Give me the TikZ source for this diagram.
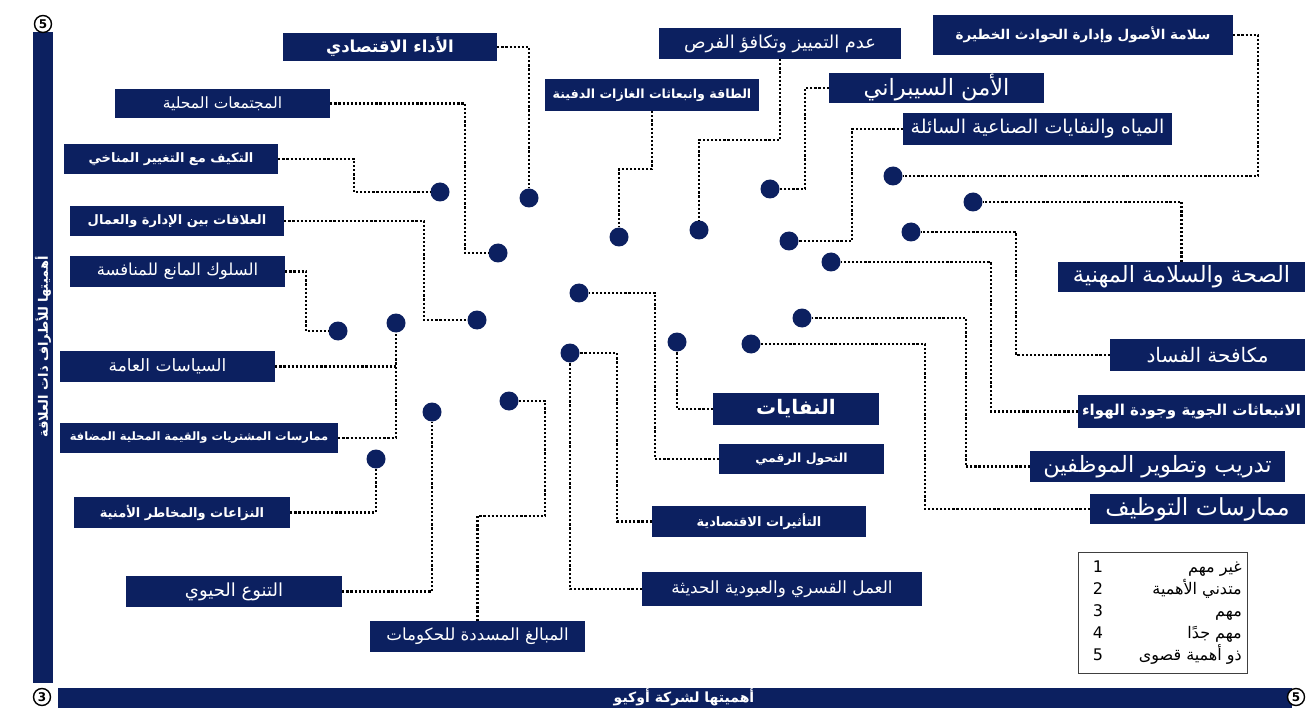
\documentclass[tikz,border=0pt]{standalone}
\usepackage{fontspec}
\setmainfont{DejaVu Sans}
\newfontfamily\arabicfont[Script=Arabic]{DejaVu Sans}
\TeXXeTstate=1
\definecolor{navy}{RGB}{12,32,96}
\newcommand{\artxt}[1]{\beginR #1\endR}
\begin{document}
\begin{tikzpicture}[x=1pt,y=-1pt,
  lbl/.style={fill=navy,text=white,inner sep=0pt,font=\arabicfont\fontsize{16}{18}\selectfont},
  fr/.style={font=\arabicfont\fontsize{#1}{#1}\selectfont},
  fb/.style={font=\arabicfont\bfseries\fontsize{#1}{#1}\selectfont},
  dot/.style={circle,fill=navy,minimum size=19pt,inner sep=0pt},
  conn/.style={line width=2.2pt,dash pattern=on 2.2pt off 1.9pt,black},
  cmark/.style={circle,draw=black,fill=white,line width=1.4pt,minimum size=17pt,inner sep=0pt,font=\bfseries\fontsize{12}{12}\selectfont},
  bar/.style={fill=navy,inner sep=0pt},
  legtxt/.style={font=\arabicfont\fontsize{16}{18}\selectfont,inner sep=0pt,anchor=base east},
  legnum/.style={font=\fontsize{16}{18}\selectfont,inner sep=0pt,anchor=base}
]
\useasboundingbox (0,0) rectangle (1313,708);
\fill[white] (0,0) rectangle (1313,708);

% axes
\node[bar,minimum width=20pt,minimum height=651pt] (ybar) at (43,357.5) {};
\node[bar,minimum width=1234pt,minimum height=20pt] (xbar) at (675,698) {};
\node[rotate=90,text=white,fb=13] (ylab) at (43,347) {\artxt{أهميتها للأطراف ذات العلاقة}};
\node[text=white,fb=14] (xlab) at (684,697) {\artxt{أهميتها لشركة أوكيو}};
\node[cmark] (m1) at (43,24) {5};
\node[cmark] (m2) at (42,697) {3};
\node[cmark] (m3) at (1296,697) {5};

% labels
\node[lbl,fb=16.5,minimum width=214pt,minimum height=28pt] (a1) at (390,47) {\artxt{الأداء الاقتصادي}};
\node[lbl,fr=15.5,minimum width=215pt,minimum height=29pt] (a2) at (222.5,103.5) {\artxt{المجتمعات المحلية}};
\node[lbl,fb=13,minimum width=214pt,minimum height=30pt] (a3) at (171,159) {\artxt{التكيف مع التغيير المناخي}};
\node[lbl,fb=13,minimum width=214pt,minimum height=30pt] (a4) at (177,221) {\artxt{العلاقات بين الإدارة والعمال}};
\node[lbl,fr=16.5,minimum width=215pt,minimum height=31pt] (a5) at (177.5,271.5) {\artxt{السلوك المانع للمنافسة}};
\node[lbl,fr=17,minimum width=215pt,minimum height=31pt] (a6) at (167.5,366.5) {\artxt{السياسات العامة}};
\node[lbl,fb=11.5,minimum width=278pt,minimum height=30pt] (a7) at (199,438) {\artxt{ممارسات المشتريات والقيمة المحلية المضافة}};
\node[lbl,fb=13,minimum width=216pt,minimum height=31pt] (a8) at (182,512.5) {\artxt{النزاعات والمخاطر الأمنية}};
\node[lbl,fr=18,minimum width=216pt,minimum height=31pt] (a9) at (234,591.5) {\artxt{التنوع الحيوي}};
\node[lbl,fr=16.7,minimum width=215pt,minimum height=31pt] (a10) at (477.5,636.5) {\artxt{المبالغ المسددة للحكومات}};
\node[lbl,fr=16.8,minimum width=280pt,minimum height=34pt] (a11) at (782,589) {\artxt{العمل القسري والعبودية الحديثة}};
\node[lbl,fb=13,minimum width=214pt,minimum height=31pt] (a12) at (759,521.5) {\artxt{التأثيرات الاقتصادية}};
\node[lbl,fb=12.5,minimum width=165pt,minimum height=30pt] (a13) at (801.5,459) {\artxt{التحول الرقمي}};
\node[lbl,fb=20,minimum width=166pt,minimum height=32pt] (a14) at (796,409) {\artxt{النفايات}};
\node[lbl,fr=23.5,minimum width=215pt,minimum height=30pt] (a15) at (1197.5,509) {\artxt{ممارسات التوظيف}};
\node[lbl,fr=22.5,minimum width=255pt,minimum height=31pt] (a16) at (1157.5,466.5) {\artxt{تدريب وتطوير الموظفين}};
\node[lbl,fb=15,minimum width=227pt,minimum height=33pt] (a17) at (1191.5,411.5) {\artxt{الانبعاثات الجوية وجودة الهواء}};
\node[lbl,fr=20,minimum width=195pt,minimum height=32pt] (a18) at (1207.5,355) {\artxt{مكافحة الفساد}};
\node[lbl,fr=22.5,minimum width=247pt,minimum height=30pt] (a19) at (1181.5,277) {\artxt{الصحة والسلامة المهنية}};
\node[lbl,fr=19,minimum width=269pt,minimum height=32pt] (a20) at (1037.5,129) {\artxt{المياه والنفايات الصناعية السائلة}};
\node[lbl,fr=22.5,minimum width=215pt,minimum height=30pt] (a21) at (936.5,88) {\artxt{الأمن السيبراني}};
\node[lbl,fb=13.5,minimum width=300pt,minimum height=40pt] (a22) at (1083,35) {\artxt{سلامة الأصول وإدارة الحوادث الخطيرة}};
\node[lbl,fr=17.8,minimum width=242pt,minimum height=31pt] (a23) at (780,43.5) {\artxt{عدم التمييز وتكافؤ الفرص}};
\node[lbl,fb=12.6,minimum width=214pt,minimum height=32pt] (a24) at (652,95) {\artxt{الطاقة وانبعاثات الغازات الدفينة}};

% dots
\node[dot] (d1) at (440,192) {};
\node[dot] (d2) at (529,198) {};
\node[dot] (d3) at (498,253) {};
\node[dot] (d4) at (619,237) {};
\node[dot] (d5) at (699,230) {};
\node[dot] (d6) at (770,189) {};
\node[dot] (d7) at (893,176) {};
\node[dot] (d8) at (973,202) {};
\node[dot] (d9) at (789,241) {};
\node[dot] (d10) at (911,232) {};
\node[dot] (d11) at (831,262) {};
\node[dot] (d12) at (579,293) {};
\node[dot] (d13) at (477,320) {};
\node[dot] (d14) at (396,323) {};
\node[dot] (d15) at (338,331) {};
\node[dot] (d16) at (802,318) {};
\node[dot] (d17) at (677,342) {};
\node[dot] (d18) at (751,344) {};
\node[dot] (d19) at (570,353) {};
\node[dot] (d20) at (509,401) {};
\node[dot] (d21) at (432,412) {};
\node[dot] (d22) at (376,459) {};

% bend points
\coordinate (c2) at (465,253);
\coordinate (c3) at (354,192);
\coordinate (c4) at (424,320);
\coordinate (c5) at (306,331);
\coordinate (c10) at (545,516);
\coordinate (c12) at (617,353);
\coordinate (c13) at (655,293);
\coordinate (c15) at (925,344);
\coordinate (c16) at (966,318);
\coordinate (c17) at (991,262);
\coordinate (c18) at (1016,232);
\coordinate (c20) at (852,241);
\coordinate (c21) at (805,189);
\coordinate (c22) at (1258,176);
\coordinate (c23) at (699,140);
\coordinate (c24) at (619,169);

% connectors
\draw[conn] (a1.east) -| (d2);
\draw[conn] (a2.east) -| (c2) -- (d3);
\draw[conn] (a3.east) -| (c3) -- (d1);
\draw[conn] (a4.east) -| (c4) -- (d13);
\draw[conn] (a5.east) -| (c5) -- (d15);
\draw[conn] (a6.east) -- (a6.east -| d14);
\draw[conn] (a7.east) -| (d14);
\draw[conn] (a8.east) -| (d22);
\draw[conn] (a9.east) -| (d21);
\draw[conn] (a10.north) |- (c10) |- (d20);
\draw[conn] (a11.west) -| (d19);
\draw[conn] (a12.west) -| (c12) -- (d19);
\draw[conn] (a13.west) -| (c13) -- (d12);
\draw[conn] (a14.west) -| (d17);
\draw[conn] (a15.west) -| (c15) -- (d18);
\draw[conn] (a16.west) -| (c16) -- (d16);
\draw[conn] (a17.west) -| (c17) -- (d11);
\draw[conn] (a18.west) -| (c18) -- (d10);
\draw[conn] (a19.north) |- (d8);
\draw[conn] (a20.west) -| (c20) -- (d9);
\draw[conn] (a21.west) -| (c21) -- (d6);
\draw[conn] (a22.east) -| (c22) -- (d7);
\draw[conn] (a23.south) |- (c23) -- (d5);
\draw[conn] (a24.south) |- (c24) -- (d4);

% legend
\node[draw=black!75,line width=0.9pt,minimum width=169pt,minimum height=121pt,inner sep=0pt] (leg) at (1162.5,612.5) {};
\node[legtxt] (l1) at (1242,572) {\artxt{غير مهم}};
\node[legtxt] (l2) at (1242,594) {\artxt{متدني الأهمية}};
\node[legtxt] (l3) at (1242,616) {\artxt{مهم}};
\node[legtxt] (l4) at (1242,638) {\artxt{مهم جدًا}};
\node[legtxt] (l5) at (1242,660) {\artxt{ذو أهمية قصوى}};
\node[legnum] (n1) at (1098,572) {1};
\node[legnum] (n2) at (1098,594) {2};
\node[legnum] (n3) at (1098,616) {3};
\node[legnum] (n4) at (1098,638) {4};
\node[legnum] (n5) at (1098,660) {5};
\end{tikzpicture}
\end{document}
